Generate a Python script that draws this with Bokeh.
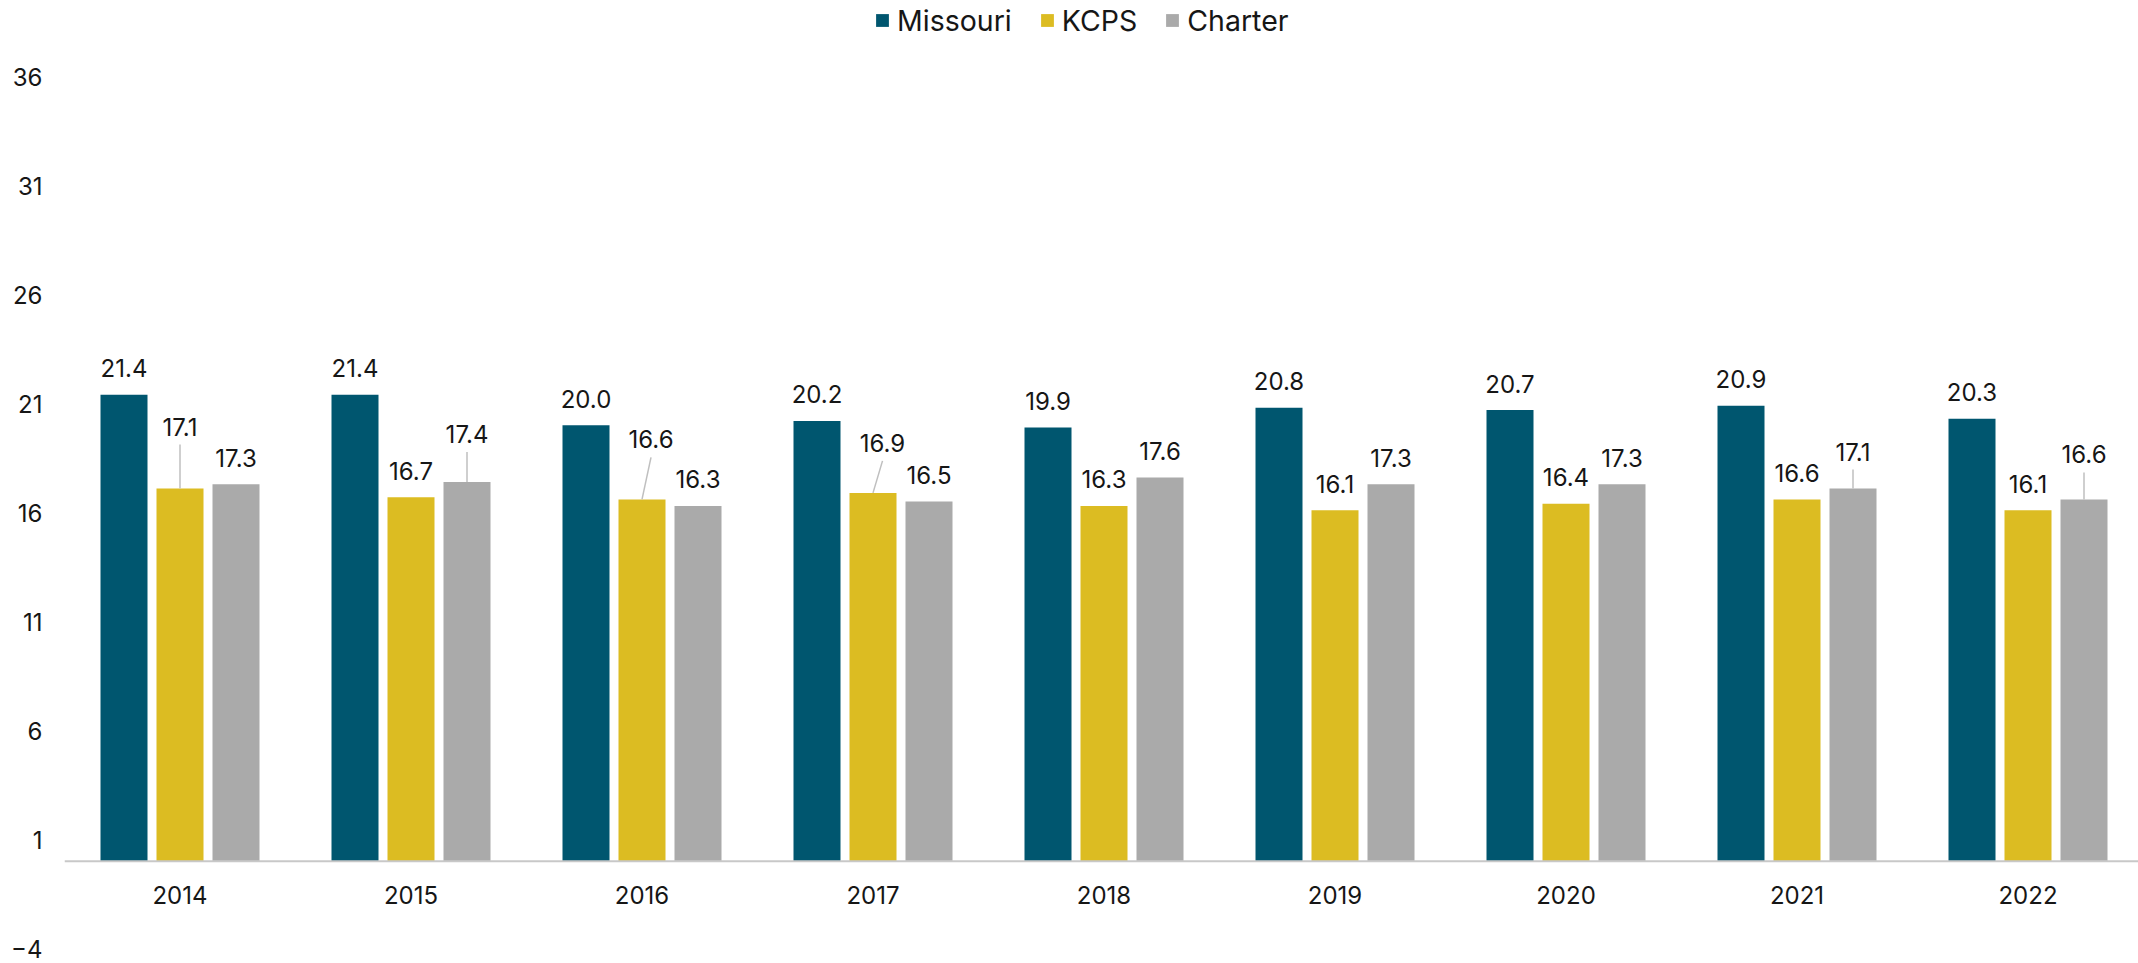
from bokeh.plotting import figure
from bokeh.models import Range1d, FixedTicker, Span, Legend, LegendItem, ColumnDataSource
from bokeh.core.properties import value
from bokeh.embed import file_html
from bokeh.resources import INLINE

# ---------------- data ----------------
years = ["2014", "2015", "2016", "2017", "2018", "2019", "2020", "2021", "2022"]
missouri = [21.4, 21.4, 20.0, 20.2, 19.9, 20.8, 20.7, 20.9, 20.3]
kcps = [17.1, 16.7, 16.6, 16.9, 16.3, 16.1, 16.4, 16.6, 16.1]
charter = [17.3, 17.4, 16.3, 16.5, 17.6, 17.3, 17.3, 17.1, 16.6]
series_names = ["Missouri", "KCPS", "Charter"]
y_ticks = [-4, 1, 6, 11, 16, 21, 26, 31, 36]

# ---------------- style / layout ----------------
colors = ["#00566F", "#DCBC22", "#AAAAAA"]
FONT = "Inter"
FS = "24px"
LEG_FS = "28.5px"
TXT = "#161616"
W, H = 2138, 963
BL, BR, BT, BB = 64, 0, 0, 15
FW = W - BL - BR
FH = H - BT - BB
TOP36_PX = 76            # pixel row of the value 36 from the figure top
CAT_PX = 231.0
BAR_PX = 47.0
STEP_PX = 56.0
Y0, Y1 = -4, 36
PPU = (FH - TOP36_PX) / (Y1 - Y0)
Y_TOP = Y1 + TOP36_PX / PPU
DEFAULT_UP = 26.5
# label placement (pixels above bar top, x shift) per series
label_up = [
    [DEFAULT_UP] * 9,
    [62, DEFAULT_UP, 60, 50, DEFAULT_UP, DEFAULT_UP, DEFAULT_UP, DEFAULT_UP, DEFAULT_UP],
    [DEFAULT_UP, 48, DEFAULT_UP, DEFAULT_UP, DEFAULT_UP, DEFAULT_UP, DEFAULT_UP, 37, 45],
]
label_dx = [
    [0] * 9,
    [0, 0, 9, 9.5, 0, 0, 0, 0, 0],
    [0] * 9,
]
LEADER_GAP = 18

p = figure(
    width=W, height=H,
    x_range=Range1d(0, FW / CAT_PX), y_range=Range1d(Y0, Y_TOP),
    output_backend="svg", toolbar_location=None,
    x_axis_location=None,
    min_border_left=BL, min_border_right=BR, min_border_top=BT, min_border_bottom=BB,
)
p.grid.visible = False
p.outline_line_color = None
p.background_fill_color = "white"
p.border_fill_color = "white"

ax = p.yaxis[0]
ax.ticker = FixedTicker(ticks=y_ticks)
ax.axis_line_color = None
ax.major_tick_line_color = None
ax.minor_tick_line_color = None
ax.major_tick_out = 0
ax.major_tick_in = 0
ax.major_label_standoff = 22
ax.major_label_text_font = FONT
ax.major_label_text_font_size = FS
ax.major_label_text_color = TXT

p.add_layout(Span(location=0, dimension="width", line_color="#C8C8C8", line_width=2))

all_vals = [missouri, kcps, charter]
renderers = []
for j, vals in enumerate(all_vals):
    off = (j - 1) * STEP_PX / CAT_PX
    xs = [i + 0.5 + off for i in range(len(years))]
    r = p.vbar(x=xs, top=vals, bottom=0, width=BAR_PX / CAT_PX,
               fill_color=colors[j], line_color=None)
    renderers.append(r)
    ups = label_up[j]
    dxs = label_dx[j]
    src = ColumnDataSource(dict(
        x=xs, y=vals, t=[f"{v:.1f}" for v in vals],
        xo=dxs, yo=[-u for u in ups],
    ))
    p.text(x="x", y="y", text="t", x_offset="xo", y_offset="yo", source=src,
           text_align="center", text_baseline="middle",
           text_font=value(FONT), text_font_size=FS, text_color=TXT)
    # leader lines for displaced labels
    lx0, ly0, lx1, ly1 = [], [], [], []
    for i, v in enumerate(vals):
        if ups[i] > DEFAULT_UP + 5:
            lx0.append(xs[i]); ly0.append(v)
            lx1.append(xs[i] + dxs[i] / CAT_PX)
            ly1.append(v + (ups[i] - LEADER_GAP) / PPU)
    if lx0:
        p.segment(x0=lx0, y0=ly0, x1=lx1, y1=ly1, line_color="#BFBFBF", line_width=1.5)

# category labels
p.text(x=[i + 0.5 for i in range(len(years))], y=[0] * len(years), text=years,
       y_offset=34, text_align="center", text_baseline="middle",
       text_font=value(FONT), text_font_size=FS, text_color=TXT)

LEG_H = 34
legend = Legend(
    items=[LegendItem(label=n, renderers=[r]) for n, r in zip(series_names, renderers)],
    orientation="horizontal", location=(874 - BL, FH - 20.5 - LEG_H / 2),
    label_text_font=FONT, label_text_font_size=LEG_FS, label_text_color=TXT,
    glyph_width=16, glyph_height=16, label_standoff=7, spacing=27,
    label_height=LEG_H, padding=0, margin=0, border_line_color=None,
    background_fill_alpha=0,
)
p.add_layout(legend, "center")

open("out.html", "w").write(file_html(p, INLINE))
